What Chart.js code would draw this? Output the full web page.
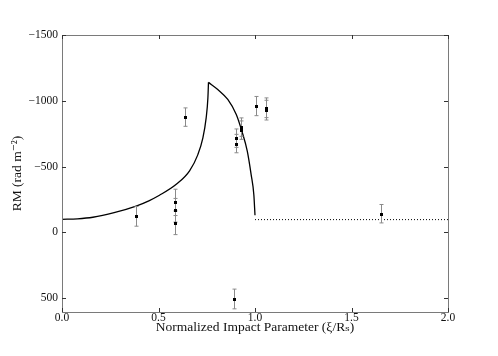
<!DOCTYPE html>
<html>
<head>
<meta charset="utf-8">
<script src="https://cdn.jsdelivr.net/npm/chart.js@4/dist/chart.umd.min.js"></script>
<style>
  body { margin: 0; background: #fff; }
  canvas { display: block; }
</style>
</head>
<body>
<canvas id="rmChart" width="498" height="356"></canvas>
<script>
// model curve, rising branch up to the cusp
var riseX  = [0, 0.08, 0.16, 0.27, 0.384, 0.45, 0.505, 0.592, 0.661, 0.704, 0.730, 0.747, 0.756, 0.759];
var riseRM = [-99, -103, -115, -150, -200, -240, -282, -365, -468, -591, -718, -870, -1023, -1140];
// falling branch from the cusp to the edge
var fallX  = [0.759, 0.807, 0.859, 0.903, 0.932, 0.960, 0.980, 0.994, 1.0];
var fallRM = [-1140, -1086, -1010, -896, -769, -617, -439, -286, -130];
// outside the source
var outX  = [1.0, 2.0];
var outRM = [-97, -97];

// measurements
var ptX   = [0.384, 0.586, 0.586, 0.586, 0.638, 0.889, 0.901, 0.901, 0.930, 0.930, 1.006, 1.058, 1.058, 1.654];
var ptRM  = [-122, -228, -168, -73, -876, 506, -716, -675, -800, -777, -960, -947, -929, -142];
var ptErr = [75, 100, 90, 90, 70, 75, 70, 70, 70, 70, 73, 75, 75, 70];

var xTicks = [0, 0.5, 1.0, 1.5, 2.0];
var yTicks = [-1500, -1000, -500, 0, 500];

function pairs(xs, ys) {
  return xs.map(function(x, i) { return {x: x, y: ys[i]}; });
}

var axisGray = '#7a7a7a';
var serif = "'Liberation Serif', 'DejaVu Serif', serif";

var frameAndErrors = {
  id: 'frameAndErrors',
  afterDatasetsDraw: function(chart) {
    var ctx = chart.ctx, xs = chart.scales.x, ys = chart.scales.y;
    ctx.save();
    ctx.strokeStyle = '#8a8a8a';
    ctx.lineWidth = 1;
    for (var i = 0; i < ptX.length; i++) {
      var px = Math.round(xs.getPixelForValue(ptX[i])) + 0.5;
      var top = ys.getPixelForValue(ptRM[i] - ptErr[i]);
      var bot = ys.getPixelForValue(ptRM[i] + ptErr[i]);
      ctx.beginPath();
      ctx.moveTo(px, top); ctx.lineTo(px, bot);
      ctx.moveTo(px - 2, top); ctx.lineTo(px + 2, top);
      ctx.moveTo(px - 2, bot); ctx.lineTo(px + 2, bot);
      ctx.stroke();
    }
    // markers on top of the bars
    ctx.fillStyle = '#000';
    for (var j = 0; j < ptX.length; j++) {
      var mx = Math.round(xs.getPixelForValue(ptX[j]));
      var my = Math.round(ys.getPixelForValue(ptRM[j]));
      ctx.fillRect(mx - 1, my - 1, 3, 3);
    }
    ctx.restore();
  },
  afterDraw: function(chart) {
    var ctx = chart.ctx, a = chart.chartArea, xs = chart.scales.x, ys = chart.scales.y;
    ctx.save();
    ctx.strokeStyle = axisGray;
    ctx.lineWidth = 1;
    ctx.strokeRect(Math.round(a.left) + 0.5, Math.round(a.top) + 0.5,
                   Math.round(a.right - a.left), Math.round(a.bottom - a.top));
    ctx.strokeStyle = '#333';
    ctx.beginPath();
    xTicks.forEach(function(v) {
      var px = Math.round(xs.getPixelForValue(v)) + 0.5;
      ctx.moveTo(px, a.bottom); ctx.lineTo(px, a.bottom - 4);
      ctx.moveTo(px, a.top); ctx.lineTo(px, a.top + 4);
    });
    yTicks.forEach(function(v) {
      var py = Math.round(ys.getPixelForValue(v)) + 0.5;
      ctx.moveTo(a.left, py); ctx.lineTo(a.left + 4, py);
      ctx.moveTo(a.right, py); ctx.lineTo(a.right - 4, py);
    });
    ctx.stroke();
    ctx.restore();
  }
};

var ctx = document.getElementById('rmChart').getContext('2d');
var rmChart = new Chart(ctx, {
  type: 'scatter',
  data: {
    datasets: [
      {
        data: pairs(riseX, riseRM),
        showLine: true, borderColor: '#000', borderWidth: 1.3,
        pointRadius: 0, cubicInterpolationMode: 'monotone'
      },
      {
        data: pairs(fallX, fallRM),
        showLine: true, borderColor: '#000', borderWidth: 1.3,
        pointRadius: 0, cubicInterpolationMode: 'monotone'
      },
      {
        data: pairs(outX, outRM),
        showLine: true, borderColor: '#000', borderWidth: 1,
        borderDash: [1, 2], pointRadius: 0
      },
      {
        data: pairs(ptX, ptRM),
        showLine: false, pointRadius: 0
      }
    ]
  },
  options: {
    responsive: false,
    animation: false,
    layout: { padding: { left: 0, top: 35, right: 50, bottom: 0 } },
    plugins: { legend: { display: false }, tooltip: { enabled: false } },
    scales: {
      x: {
        type: 'linear', min: 0, max: 2,
        grid: { display: false, drawTicks: false },
        border: { display: false },
        afterBuildTicks: function(s) { s.ticks = xTicks.map(function(v) { return {value: v}; }); },
        afterFit: function(s) { s.height = 44; },
        ticks: {
          padding: -1, color: '#111', maxRotation: 0,
          font: { family: serif, size: 11.5 },
          callback: function(v) { return Number(v).toFixed(1); }
        },
        title: {
          display: true, text: 'Normalized Impact Parameter (\u03BE/R\u209B)',
          color: '#111', font: { family: serif, size: 13.5 },
          padding: { top: 0, bottom: 20 }
        }
      },
      y: {
        type: 'linear', min: -1500, max: 605, reverse: true,
        grid: { display: false, drawTicks: false },
        border: { display: false },
        afterBuildTicks: function(s) { s.ticks = yTicks.map(function(v) { return {value: v}; }); },
        afterFit: function(s) { s.width = 62; },
        ticks: {
          padding: 4, color: '#111',
          font: { family: serif, size: 11.5 },
          callback: function(v) { return v < 0 ? '\u2212' + Math.abs(v) : String(v); }
        },
        title: {
          display: true, text: 'RM (rad m\u207B\u00B2)',
          color: '#111', font: { family: serif, size: 13.5 },
          padding: { top: 9, bottom: 0 }
        }
      }
    }
  },
  plugins: [frameAndErrors]
});
</script>
</body>
</html>
